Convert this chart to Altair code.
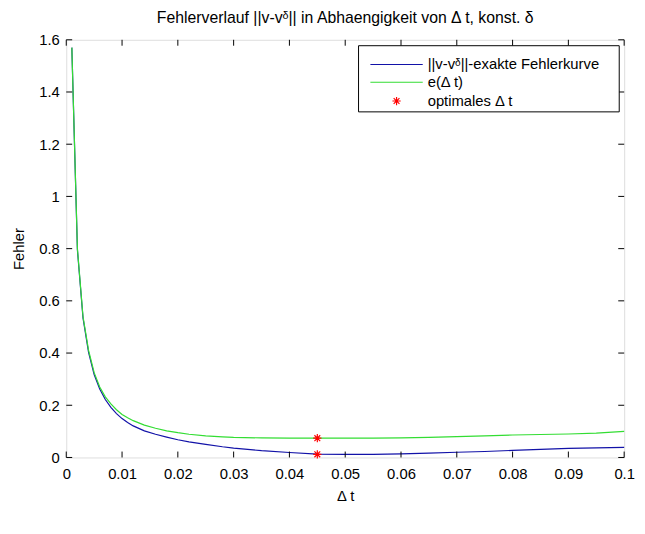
import altair as alt
import pandas as pd

# ---- data ----
dt = [0.001, 0.002, 0.003, 0.004, 0.005, 0.006, 0.007, 0.008, 0.009, 0.010,
      0.011, 0.012, 0.014, 0.016, 0.018, 0.020, 0.022, 0.025, 0.028, 0.030,
      0.035, 0.040, 0.045, 0.050, 0.055, 0.060, 0.065, 0.070, 0.075, 0.080,
      0.085, 0.090, 0.095, 0.100]
err_exact = [1.57, 0.795, 0.535, 0.403, 0.318, 0.262, 0.222, 0.192, 0.168, 0.149,
             0.134, 0.121, 0.102, 0.089, 0.078, 0.068, 0.060, 0.050, 0.041, 0.036,
             0.026, 0.019, 0.013, 0.012, 0.012, 0.014, 0.017, 0.020, 0.023, 0.027,
             0.031, 0.035, 0.037, 0.039]
err_est = [1.57, 0.80, 0.54, 0.41, 0.325, 0.27, 0.232, 0.205, 0.183, 0.165,
           0.152, 0.141, 0.124, 0.112, 0.102, 0.095, 0.089, 0.083, 0.079, 0.077,
           0.075, 0.074, 0.074, 0.074, 0.074, 0.075, 0.077, 0.080, 0.083, 0.086,
           0.088, 0.090, 0.093, 0.100]
opt_dt = [0.045, 0.045]
opt_val = [0.074, 0.012]
x_ticks = [0, 0.01, 0.02, 0.03, 0.04, 0.05, 0.06, 0.07, 0.08, 0.09, 0.1]
y_ticks = [0, 0.2, 0.4, 0.6, 0.8, 1.0, 1.2, 1.4, 1.6]
legend_labels = ["||v-v\u1d5f||-exakte Fehlerkurve", "e(\u0394 t)", "optimales \u0394 t"]
title_text = "Fehlerverlauf ||v-v\u1d5f|| in Abhaengigkeit von \u0394 t, konst. \u03b4"

# ---- styling ----
W, H = 565, 423
FONT = "Liberation Sans"
FS = 15
BLUE = "#1212a8"
GREEN = "#33dd33"
RED = "#ff0000"
STAR = "M-1,0L1,0M0,-1L0,1M-0.7,-0.7L0.7,0.7M-0.7,0.7L0.7,-0.7"

df = pd.DataFrame({"dt": dt, "exact": err_exact, "est": err_est})
df_opt = pd.DataFrame({"dt": opt_dt, "val": opt_val})
df_xt = pd.DataFrame({"v": x_ticks})
df_yt = pd.DataFrame({"v": y_ticks})
one = pd.DataFrame({"k": [0]})

xs = alt.Scale(domain=[0, 0.1], nice=False, zero=False)
ys = alt.Scale(domain=[0, 1.6], nice=False)

x_axis = alt.Axis(values=x_ticks, format=".2~f", ticks=False, tickSize=0, domain=False,
                  grid=False, labelPadding=9, labelFontSize=FS, labelFont=FONT,
                  labelColor="black", labelFlush=False, labelOverlap=False,
                  title="\u0394 t", titleFontSize=FS, titleFont=FONT,
                  titleFontWeight="normal", titleColor="black", titlePadding=8)
y_axis = alt.Axis(values=y_ticks, format=".1~f", ticks=False, tickSize=0, domain=False,
                  grid=False, labelPadding=7, labelFontSize=FS, labelFont=FONT,
                  labelColor="black", labelFlush=False, labelOverlap=False,
                  title="Fehler", titleFontSize=FS, titleFont=FONT,
                  titleFontWeight="normal", titleColor="black", titlePadding=12)

base = alt.Chart(df)
line_exact = base.mark_line(color=BLUE, strokeWidth=1.2).encode(
    x=alt.X("dt:Q", scale=xs, axis=x_axis),
    y=alt.Y("exact:Q", scale=ys, axis=y_axis),
)
line_est = base.mark_line(color=GREEN, strokeWidth=1.2).encode(
    x=alt.X("dt:Q", scale=xs),
    y=alt.Y("est:Q", scale=ys),
)
stars = alt.Chart(df_opt).mark_point(shape=STAR, filled=False, color=RED,
                                     size=70, strokeWidth=1.2, opacity=1).encode(
    x=alt.X("dt:Q", scale=xs),
    y=alt.Y("val:Q", scale=ys),
)

TL = 6
tick_b = alt.Chart(df_xt).mark_rule(color="black").encode(
    x=alt.X("v:Q", scale=xs), y=alt.value(H), y2=alt.value(H - TL))
tick_t = alt.Chart(df_xt).mark_rule(color="black").encode(
    x=alt.X("v:Q", scale=xs), y=alt.value(0), y2=alt.value(TL))
tick_l = alt.Chart(df_yt).mark_rule(color="black").encode(
    y=alt.Y("v:Q", scale=ys), x=alt.value(0), x2=alt.value(TL))
tick_r = alt.Chart(df_yt).mark_rule(color="black").encode(
    y=alt.Y("v:Q", scale=ys), x=alt.value(W), x2=alt.value(W - TL))

# ---- legend (MATLAB style box) ----
LX0, LX1, LY0, LY1 = 296, 560, 6, 73
ROW = [25, 43, 62]
SX0, SX1, TX = 308, 361, 366
leg_box = alt.Chart(one).mark_rect(fill="white", stroke="black", strokeWidth=1).encode(
    x=alt.value(LX0), x2=alt.value(LX1), y=alt.value(LY0), y2=alt.value(LY1))
leg_l1 = alt.Chart(one).mark_rule(color=BLUE, strokeWidth=1.2).encode(
    x=alt.value(SX0), x2=alt.value(SX1), y=alt.value(ROW[0]))
leg_l2 = alt.Chart(one).mark_rule(color=GREEN, strokeWidth=1.2).encode(
    x=alt.value(SX0), x2=alt.value(SX1), y=alt.value(ROW[1]))
leg_s = alt.Chart(one).mark_point(shape=STAR, filled=False, color=RED, size=70,
                                  strokeWidth=1.2, opacity=1).encode(
    x=alt.value((SX0 + SX1) / 2), y=alt.value(ROW[2]))
leg_txt = [
    alt.Chart(one).mark_text(text=legend_labels[i], align="left", baseline="middle",
                             font=FONT, fontSize=FS, color="black").encode(
        x=alt.value(TX), y=alt.value(ROW[i]))
    for i in range(3)
]

chart = alt.layer(
    line_exact, line_est, stars, tick_b, tick_t, tick_l, tick_r,
    leg_box, leg_l1, leg_l2, leg_s, *leg_txt
).properties(
    width=W, height=H,
    title=alt.TitleParams(title_text, font=FONT, fontSize=16, fontWeight="normal",
                          color="black", anchor="middle", offset=7),
    autosize=alt.AutoSizeParams(type="none"),
    padding={"left": 59, "top": 29, "right": 13, "bottom": 50},
).configure_view(stroke="black", strokeWidth=1).configure(background="white")

chart.save("out.html", embed_options={"renderer": "svg", "actions": False})
